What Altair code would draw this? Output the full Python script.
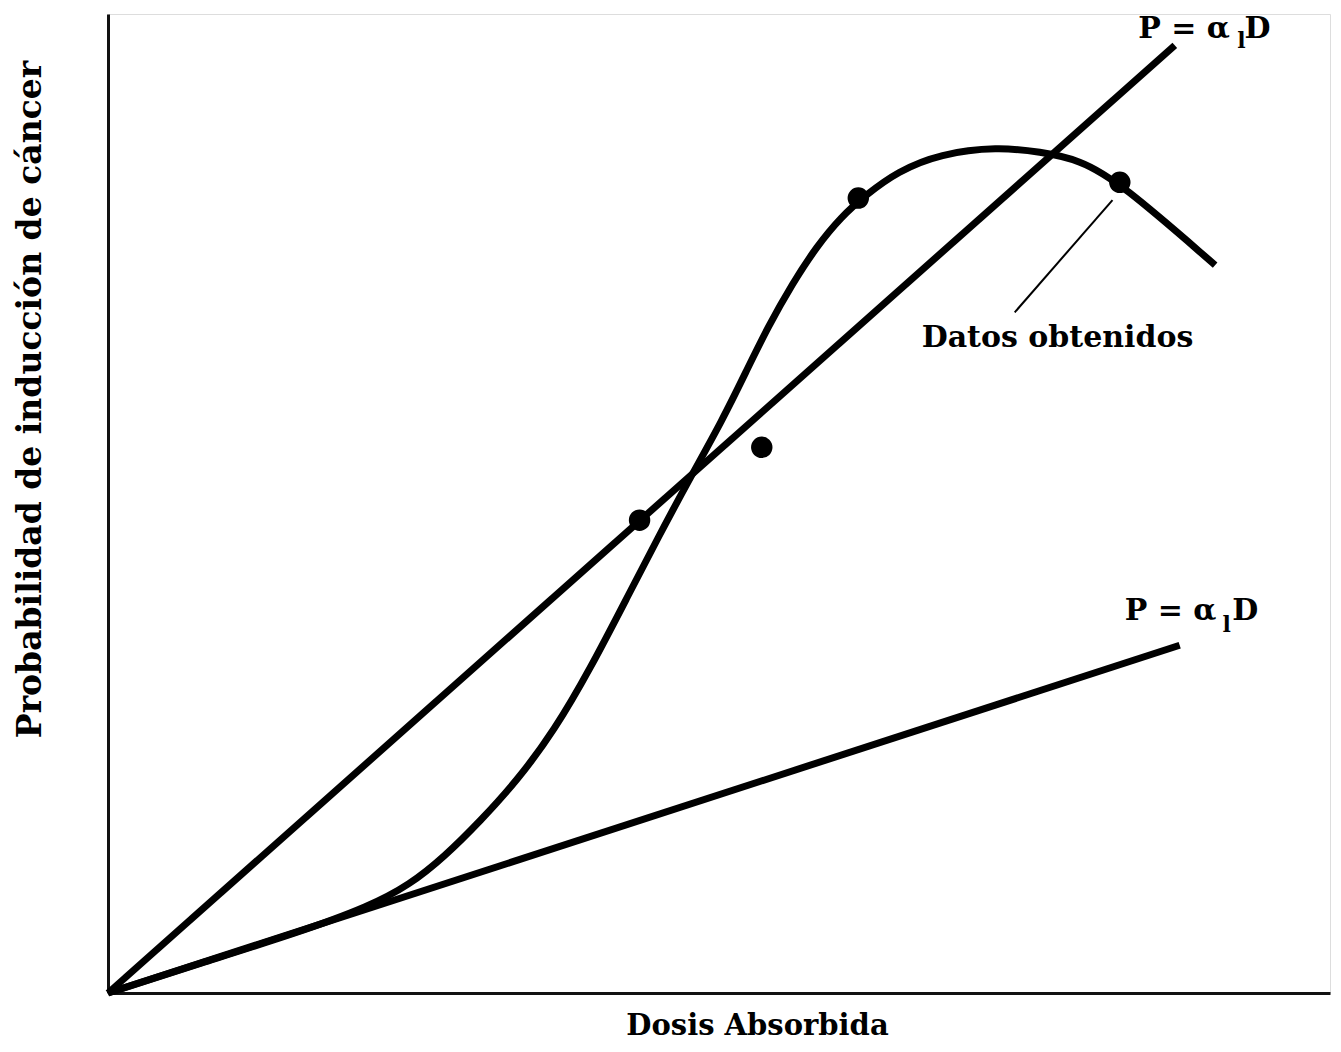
import altair as alt
import pandas as pd

# (dose and probability in arbitrary 0-100 units)
steep_x = [0.0, 87.3]
steep_y = [0.0, 96.2]
shallow_x = [0.0, 87.7]
shallow_y = [0.0, 35.3]
curve_x = [0.0, 7.5, 15.7, 21.4, 24.7, 27.5, 30.5, 33.5, 36.5, 39.5, 42.5, 45.0,
           47.5, 50.3, 52.3, 54.0, 56.0, 58.0, 60.0, 62.0, 64.6, 68.1, 72.8, 76.3,
           79.5, 82.8, 90.6]
curve_y = [0.0, 3.0, 6.2, 8.8, 11.0, 13.8, 17.5, 21.6, 26.6, 33.0, 40.2, 46.2,
           52.0, 58.2, 63.3, 67.6, 72.0, 75.8, 78.8, 81.0, 83.4, 85.2, 85.9, 85.4,
           84.6, 82.3, 73.9]
dots_x = [43.5, 53.5, 61.4, 82.8]
dots_y = [48.0, 55.4, 80.7, 82.3]
leader_x = [74.2, 82.2]
leader_y = [69.1, 80.5]

FONT = "DejaVu Serif"

xs = alt.Scale(domain=[0, 100], nice=False, zero=False)
ys = alt.Scale(domain=[0, 99.39], nice=False, zero=False)

def line_df(xv, yv, name):
    return pd.DataFrame({"x": xv, "y": yv, "s": name, "o": list(range(len(xv)))})

lines_df = pd.concat([
    line_df(steep_x, steep_y, "steep"),
    line_df(shallow_x, shallow_y, "shallow"),
])

X = alt.X("x:Q", scale=xs, axis=alt.Axis(
    title="Dosis Absorbida", titleFont=FONT, titleFontSize=29, titleFontWeight="bold",
    titleX=649, titleY=32, titleBaseline="middle", titleAlign="center",
    ticks=False, labels=False, grid=False, domainColor="#111", domainWidth=3))
Y = alt.Y("y:Q", scale=ys, axis=alt.Axis(
    title="Probabilidad de inducción de cáncer", titleFont=FONT, titleFontSize=33,
    titleFontWeight="bold", titleX=-78, titleY=385, titleBaseline="middle",
    titleAlign="center", titleAngle=270,
    ticks=False, labels=False, grid=False, domainColor="#111", domainWidth=3))

straight = alt.Chart(lines_df).mark_line(color="black", strokeWidth=7).encode(
    x=X, y=Y, detail="s:N", order="o:Q")

curve = alt.Chart(line_df(curve_x, curve_y, "curve")).mark_line(
    color="black", strokeWidth=7, interpolate="basis").encode(
    x=alt.X("x:Q", scale=xs), y=alt.Y("y:Q", scale=ys), order="o:Q")

leader = alt.Chart(line_df(leader_x, leader_y, "leader")).mark_line(
    color="black", strokeWidth=2).encode(
    x=alt.X("x:Q", scale=xs), y=alt.Y("y:Q", scale=ys), order="o:Q")

dots = alt.Chart(pd.DataFrame({"x": dots_x, "y": dots_y})).mark_point(
    filled=True, color="black", size=460, opacity=1).encode(
    x=alt.X("x:Q", scale=xs), y=alt.Y("y:Q", scale=ys))

# Labels
lab_main_x = [84.3, 83.2]
lab_main_y = [97.0, 37.9]
lab_sub_x = [92.4, 91.2]
lab_sub_y = [95.9, 36.6]
lab_d_x = [93.0, 92.0]
lab_d_y = [97.0, 37.9]

main_lab = alt.Chart(pd.DataFrame({"x": lab_main_x, "y": lab_main_y, "t": ["P = α", "P = α"]})).mark_text(
    font=FONT, fontSize=30, fontWeight="bold", align="left", baseline="alphabetic", color="black").encode(
    x=alt.X("x:Q", scale=xs), y=alt.Y("y:Q", scale=ys), text="t:N")
sub_lab = alt.Chart(pd.DataFrame({"x": lab_sub_x, "y": lab_sub_y, "t": ["l", "l"]})).mark_text(
    font=FONT, fontSize=22, fontWeight="bold", align="left", baseline="alphabetic", color="black").encode(
    x=alt.X("x:Q", scale=xs), y=alt.Y("y:Q", scale=ys), text="t:N")
d_lab = alt.Chart(pd.DataFrame({"x": lab_d_x, "y": lab_d_y, "t": ["D", "D"]})).mark_text(
    font=FONT, fontSize=30, fontWeight="bold", align="left", baseline="alphabetic", color="black").encode(
    x=alt.X("x:Q", scale=xs), y=alt.Y("y:Q", scale=ys), text="t:N")

datos = alt.Chart(pd.DataFrame({"x": [77.7], "y": [66.5], "t": ["Datos obtenidos"]})).mark_text(
    font=FONT, fontSize=30, fontWeight="bold", align="center", baseline="middle", color="black").encode(
    x=alt.X("x:Q", scale=xs), y=alt.Y("y:Q", scale=ys), text="t:N")

chart = alt.layer(straight, curve, leader, dots, main_lab, sub_lab, d_lab, datos).properties(
    width=1222, height=979,
    autosize=alt.AutoSizeParams(type="none"),
    padding={"left": 100, "top": 6, "right": 3, "bottom": 51},
).configure_view(stroke=None).configure(background="white")

chart.save("out.html", embed_options={"renderer": "svg", "actions": False})
